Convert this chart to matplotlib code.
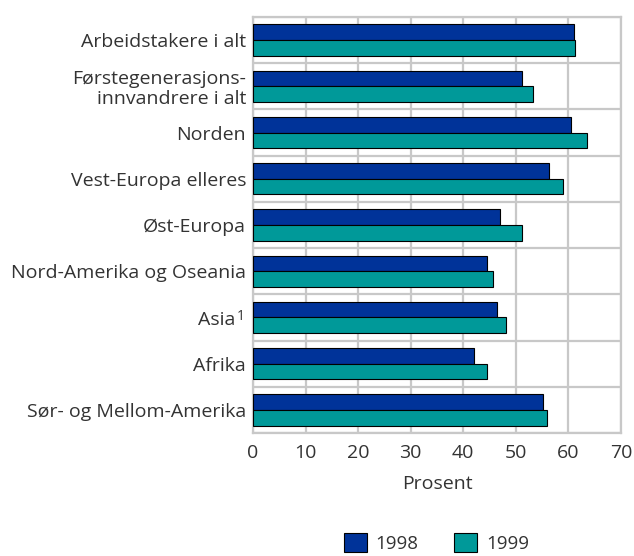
import matplotlib
matplotlib.use("Agg")
import matplotlib.pyplot as plt
from matplotlib.transforms import ScaledTranslation, blended_transform_factory
import numpy as np

categories = [
    "Arbeidstakere i alt",
    "Førstegenerasjons-\ninnvandrere i alt",
    "Norden",
    "Vest-Europa elleres",
    "Øst-Europa",
    "Nord-Amerika og Oseania",
    "Asia",
    "Afrika",
    "Sør- og Mellom-Amerika",
]
footnote_category = "Asia"
footnote_mark = "1"
values_1998 = [61.1, 51.1, 60.5, 56.3, 47.0, 44.6, 46.5, 42.0, 55.1]
values_1999 = [61.2, 53.3, 63.5, 58.9, 51.1, 45.7, 48.1, 44.6, 56.0]
series_labels = ["1998", "1999"]
x_ticks = [0, 10, 20, 30, 40, 50, 60, 70]
x_label = "Prosent"

plt.rcParams["font.family"] = ["Open Sans", "DejaVu Sans"]

text_color = "#333333"
grid_color = "#c8c8c8"
c98 = "#003399"
c99 = "#009999"
fs = 14

fig = plt.figure(figsize=(6.34, 5.56), dpi=100)
ax = fig.add_axes([253 / 634, 1 - 433 / 556, (621 - 253) / 634, (433 - 17) / 556])

y = np.arange(len(categories))
h = 0.34
ax.barh(y - h / 2, values_1998, height=h, color=c98, edgecolor="black", linewidth=0.8,
        label=series_labels[0], zorder=3)
ax.barh(y + h / 2, values_1999, height=h, color=c99, edgecolor="black", linewidth=0.8,
        label=series_labels[1], zorder=3)

ax.set_xlim(0, 70)
ax.set_ylim(len(categories) - 0.5, -0.5)
ax.set_xticks(x_ticks)
ax.set_yticks(y)
labels = ["" if c == footnote_category else c for c in categories]
ax.set_yticklabels(labels, fontsize=fs, color=text_color, linespacing=1.15)
ax.set_yticks(np.arange(len(categories) + 1) - 0.5, minor=True)
ax.tick_params(axis="x", labelsize=fs, colors=text_color, length=0, pad=8)
ax.tick_params(axis="y", which="both", length=0, pad=5)
ax.grid(axis="x", which="major", color=grid_color, linewidth=1.6, zorder=0)
ax.grid(axis="y", which="minor", color=grid_color, linewidth=1.6, zorder=0)
for s in ax.spines.values():
    s.set_color(grid_color)
    s.set_linewidth(1.6)
ax.set_xlabel(x_label, fontsize=fs, color=text_color, labelpad=9)

# footnoted label with a larger superscript
idx = categories.index(footnote_category)
btr = blended_transform_factory(ax.transAxes, ax.transData)
ax.text(0, idx, footnote_category,
        transform=btr + ScaledTranslation(-18 / 100, -8 / 100, fig.dpi_scale_trans),
        ha="right", va="baseline", fontsize=fs, color=text_color)
ax.text(0, idx, footnote_mark,
        transform=btr + ScaledTranslation(-8 / 100, -3 / 100, fig.dpi_scale_trans),
        ha="right", va="baseline", fontsize=fs * 0.7, color=text_color)

leg = fig.legend(loc="upper left", bbox_to_anchor=(336 / 634, 1 - 525 / 556), ncol=2,
                 frameon=False, fontsize=13.5, handlelength=1.25, handleheight=1.25,
                 columnspacing=1.9, handletextpad=0.45, borderaxespad=0)
for t in leg.get_texts():
    t.set_color(text_color)

fig.savefig("out.png", dpi=100)
